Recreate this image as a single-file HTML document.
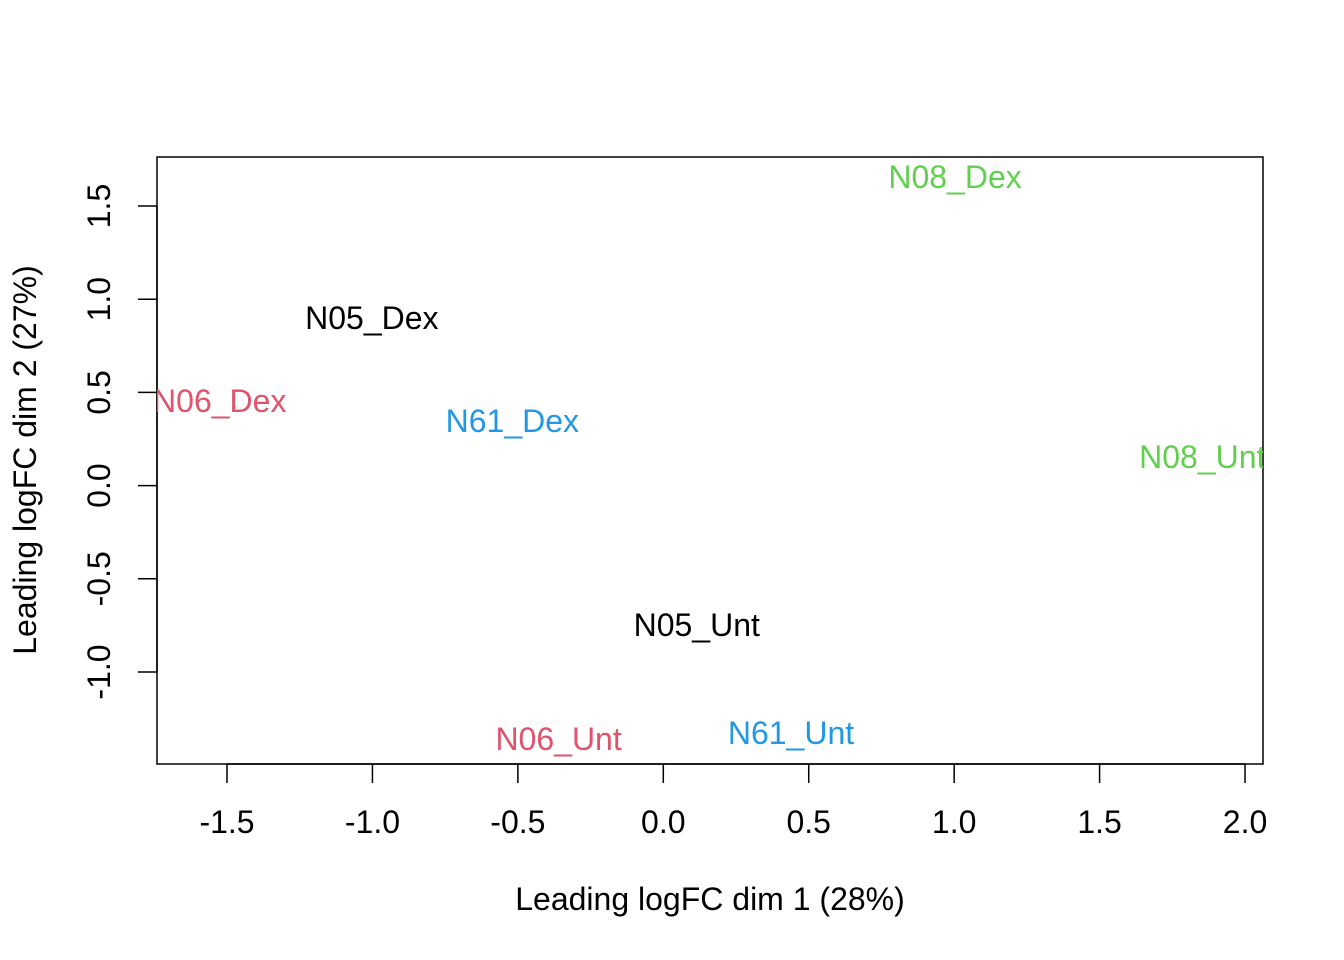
<!DOCTYPE html>
<html><head><meta charset="utf-8"><style>
html,body{margin:0;padding:0;background:#fff}
svg{display:block;font-family:"Liberation Sans",Arial,sans-serif}
</style></head><body>
<svg id="chart" width="1344" height="960" viewBox="0 0 1344 960" xmlns="http://www.w3.org/2000/svg">
<defs><clipPath id="plotclip"><rect x="157" y="157" width="1106" height="607"/></clipPath></defs>
<rect x="157" y="157" width="1106" height="607" fill="none" stroke="#000" stroke-width="1.5"/>
<g id="xaxis"></g>
<g id="yaxis"></g>
<g id="points" clip-path="url(#plotclip)"></g>
<text x="710" y="910" font-size="32" text-anchor="middle">Leading logFC dim 1 (28%)</text>
<text transform="translate(36,460) rotate(-90)" font-size="32" text-anchor="middle">Leading logFC dim 2 (27%)</text>
</svg>
<script>
const samples = ["N08_Dex","N05_Dex","N06_Dex","N61_Dex","N08_Unt","N05_Unt","N06_Unt","N61_Unt"];
const dim1 = [1.003,-1.002,-1.525,-0.519,1.853,0.115,-0.36,0.439];
const dim2 = [1.656,0.899,0.454,0.346,0.153,-0.748,-1.359,-1.327];
const groupColors = ["#61D04F","#000000","#DF536B","#2297E6","#61D04F","#000000","#DF536B","#2297E6"];
const xTicks = [-1.5,-1.0,-0.5,0.0,0.5,1.0,1.5,2.0];
const yTicks = [-1.0,-0.5,0.0,0.5,1.0,1.5];

const NS="http://www.w3.org/2000/svg";
const xs = v => 663.3 + v*290.86;
const ys = v => 485.6 - v*186.4;
function mk(tag, attrs, parent){const e=document.createElementNS(NS,tag);for(const k in attrs)e.setAttribute(k,attrs[k]);parent.appendChild(e);return e;}
const xa=document.getElementById('xaxis'), ya=document.getElementById('yaxis'), pts=document.getElementById('points');
mk('line',{x1:xs(xTicks[0]),x2:xs(xTicks[xTicks.length-1]),y1:764,y2:764,stroke:'#000','stroke-width':1.5},xa);
xTicks.forEach(t=>{
  const l=mk('line',{x1:xs(t),x2:xs(t),y1:764,y2:783,stroke:'#000','stroke-width':1.5},xa);
  
  
  const tx=mk('text',{x:xs(t),y:833,'font-size':32,'text-anchor':'middle'},xa);
  tx.textContent=t.toFixed(1);
  
  
});
mk('line',{x1:157,x2:157,y1:ys(yTicks[0]),y2:ys(yTicks[yTicks.length-1]),stroke:'#000','stroke-width':1.5},ya);
yTicks.forEach(t=>{
  const l=mk('line',{x1:138,x2:157,y1:ys(t),y2:ys(t),stroke:'#000','stroke-width':1.5},ya);
  
  
  const tx=mk('text',{transform:`translate(110,${ys(t)}) rotate(-90)`,'font-size':32,'text-anchor':'middle'},ya);
  tx.textContent=t.toFixed(1);
  
  
});
samples.forEach((s,i)=>{
  const tx=mk('text',{x:xs(dim1[i]),y:ys(dim2[i])+11,'font-size':32,'text-anchor':'middle',fill:groupColors[i]},pts);
  tx.textContent=s;
  
  
});
</script>
</body></html>
